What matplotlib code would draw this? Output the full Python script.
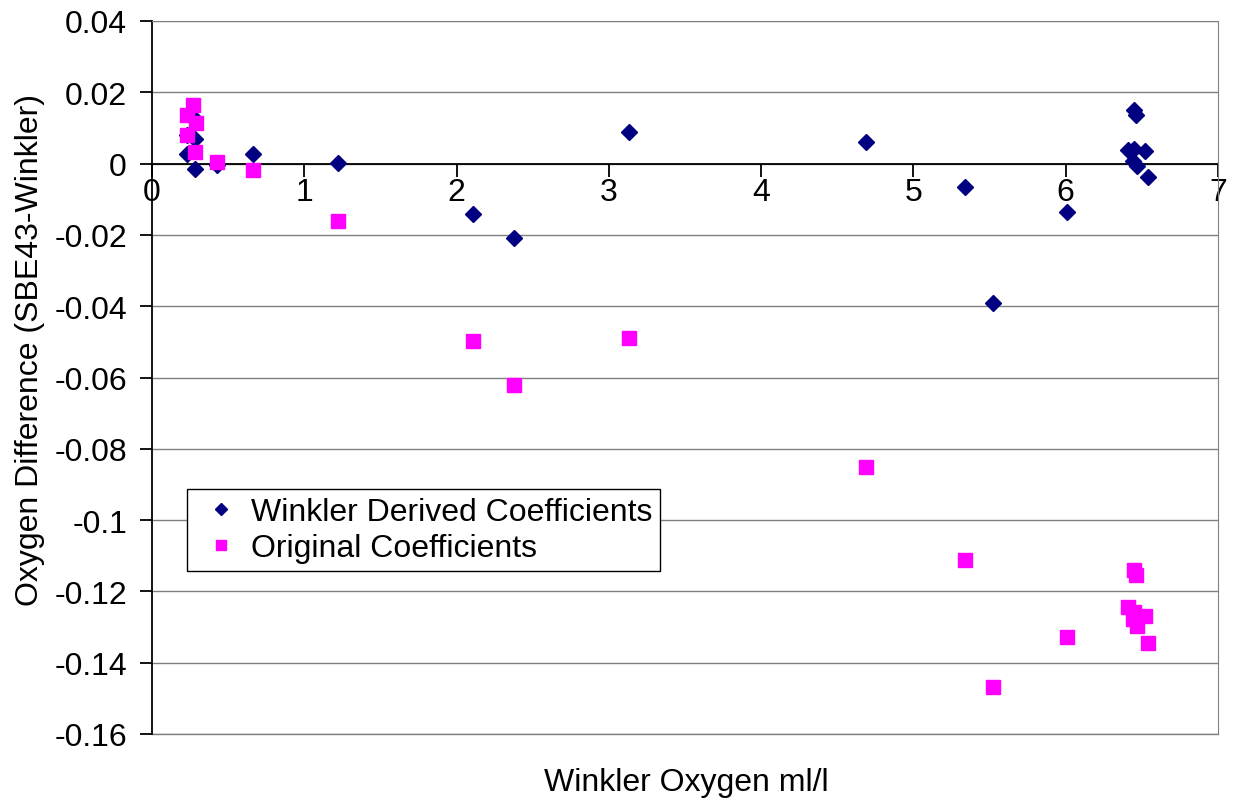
import matplotlib
matplotlib.use("Agg")
import matplotlib.pyplot as plt

plt.rcParams['font.family'] = ['Liberation Sans', 'DejaVu Sans']

# Winkler derived coefficients
wink_x = [0.23, 0.23, 0.27, 0.284, 0.284, 0.425, 0.66, 1.22, 2.11, 2.38, 3.13, 4.69,
          5.34, 5.52, 6.01, 6.45, 6.46, 6.41, 6.45, 6.52, 6.44, 6.47, 6.54]
wink_y = [0.0027, 0.0080, 0.0130, 0.0068, -0.0015, -0.0005, 0.0026, 0.0002, -0.0142,
          -0.0210, 0.0089, 0.0060, -0.0066, -0.0390, -0.0137, 0.0151, 0.0137, 0.0039,
          0.0041, 0.0035, 0.0008, -0.0006, -0.0038]

# Original coefficients
orig_x = [0.267, 0.23, 0.287, 0.23, 0.285, 0.43, 0.66, 1.22, 2.11, 2.38, 3.13, 4.69,
          5.34, 5.52, 6.01, 6.45, 6.46, 6.41, 6.45, 6.52, 6.44, 6.47, 6.54]
orig_y = [0.0165, 0.0135, 0.0114, 0.0081, 0.0032, 0.0004, -0.0017, -0.0161, -0.0497,
          -0.0620, -0.0490, -0.0852, -0.1113, -0.1468, -0.1328, -0.1140, -0.1153,
          -0.1245, -0.1258, -0.1268, -0.1278, -0.1296, -0.1345]

x_ticks = [0, 1, 2, 3, 4, 5, 6, 7]
y_ticks = [0.04, 0.02, 0, -0.02, -0.04, -0.06, -0.08, -0.1, -0.12, -0.14, -0.16]
y_labels = ['0.04', '0.02', '0', '-0.02', '-0.04', '-0.06', '-0.08', '-0.1', '-0.12', '-0.14', '-0.16']

FS = 23

fig = plt.figure(figsize=(12.35, 8.04), dpi=100)
ax = fig.add_axes([152/1235, 1-735/804, (1218-152)/1235, (735-22)/804])

ax.plot(wink_x, wink_y, linestyle='none', marker='D', markersize=8,
        color='#000080', label='Winkler Derived Coefficients', zorder=3)
ax.plot(orig_x, orig_y, linestyle='none', marker='s', markersize=9.5,
        color='#FF00FF', label='Original Coefficients', zorder=3)

ax.set_xlim(0, 7)
ax.set_ylim(-0.16, 0.04)
ax.set_yticks(y_ticks)
ax.set_yticklabels(y_labels)
ax.set_xticks(x_ticks)
ax.set_xticklabels([str(v) for v in x_ticks])

for y in y_ticks:
    ax.axhline(y, color='#808080', linewidth=1.0, zorder=1)

ax.spines['left'].set_position(('data', 0))
ax.spines['bottom'].set_position(('data', 0))
ax.spines['left'].set_color('black')
ax.spines['bottom'].set_color('black')
ax.spines['left'].set_zorder(2)
ax.spines['bottom'].set_zorder(2)
for s in ['top', 'right']:
    ax.spines[s].set_color('#808080')
ax.spines['bottom'].set_linewidth(1.3)
ax.spines['left'].set_linewidth(1.3)

ax.tick_params(axis='both', direction='out', length=9, width=1.3, labelsize=FS)
ax.tick_params(axis='y', pad=9)
ax.tick_params(axis='x', pad=1)

# bottom border of plot area
ax.plot([0, 7], [-0.16, -0.16], color='#808080', linewidth=1.0, clip_on=False, zorder=1)

leg = ax.legend(loc='upper left', bbox_to_anchor=(0.033, 0.344), fontsize=FS,
                frameon=True, fancybox=False, framealpha=1, edgecolor='black',
                handletextpad=0.15, borderpad=0.25, labelspacing=0.2, handlelength=1.6,
                borderaxespad=0, markerscale=0.75)
leg.get_frame().set_linewidth(1.0)

fig.text(30/1235, 1-350/804, 'Oxygen Difference (SBE43-Winkler)', rotation=90,
         ha='center', va='center', fontsize=FS)
fig.text(686/1235, 1-783/804, 'Winkler Oxygen ml/l', ha='center', va='center', fontsize=FS)

fig.savefig('out.png', dpi=100)
